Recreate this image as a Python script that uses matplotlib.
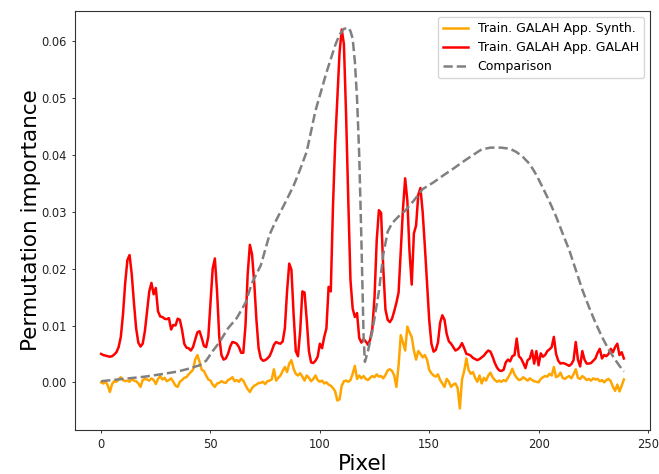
import matplotlib
matplotlib.use("Agg")
import matplotlib.pyplot as plt
import numpy as np

red_vals = [
0.0050,0.0048,0.0047,0.0046,0.0045,0.0046,0.0049,0.0053,0.0062,0.0080,
0.0120,0.0175,0.0215,0.0224,0.0190,0.0140,0.0095,0.0070,0.0063,0.0068,
0.0090,0.0125,0.0160,0.0175,0.0155,0.0166,0.0125,0.0116,0.0115,0.0112,
0.0111,0.0113,0.0093,0.0101,0.0100,0.0112,0.0110,0.0092,0.0068,0.0061,
0.0060,0.0056,0.0062,0.0075,0.0088,0.0090,0.0078,0.0064,0.0062,0.0080,
0.0140,0.0200,0.0218,0.0160,0.0080,0.0048,0.0040,0.0042,0.0050,0.0063,
0.0071,0.0070,0.0068,0.0062,0.0052,0.0052,0.0100,0.0190,0.0242,0.0225,
0.0175,0.0110,0.0060,0.0042,0.0038,0.0039,0.0042,0.0046,0.0055,0.0066,
0.0071,0.0069,0.0068,0.0072,0.0095,0.0160,0.0209,0.0198,0.0120,0.0055,
0.0046,0.0090,0.0160,0.0158,0.0110,0.0055,0.0035,0.0034,0.0038,0.0045,
0.0068,0.0060,0.0080,0.0095,0.0168,0.0160,0.0310,0.0420,0.0500,0.0580,
0.0621,0.0595,0.0470,0.0320,0.0180,0.0130,0.0115,0.0122,0.0078,0.0070,
0.0076,0.0072,0.0066,0.0075,0.0095,0.0150,0.0250,0.0303,0.0298,0.0200,
0.0128,0.0110,0.0106,0.0112,0.0125,0.0140,0.0158,0.0230,0.0305,0.0359,
0.0320,0.0230,0.0172,0.0262,0.0276,0.0330,0.0342,0.0300,0.0240,0.0175,
0.0110,0.0068,0.0054,0.0057,0.0070,0.0105,0.0118,0.0110,0.0085,0.0072,
0.0068,0.0062,0.0056,0.0058,0.0062,0.0069,0.0060,0.0050,0.0049,0.0047,
0.0043,0.0041,0.0039,0.0041,0.0044,0.0047,0.0052,0.0056,0.0054,0.0045,
0.0034,0.0026,0.0021,0.0020,0.0022,0.0035,0.0040,0.0037,0.0046,0.0048,
0.0077,0.0046,0.0042,0.0034,0.0025,0.0039,0.0042,0.0056,0.0033,0.0055,
0.0030,0.0051,0.0045,0.0048,0.0055,0.0058,0.0062,0.0080,0.0050,0.0038,
0.0033,0.0034,0.0033,0.0031,0.0029,0.0032,0.0039,0.0071,0.0040,0.0028,
0.0055,0.0040,0.0033,0.0033,0.0034,0.0038,0.0042,0.0052,0.0059,0.0042,
0.0048,0.0046,0.0050,0.0059,0.0053,0.0062,0.0068,0.0048,0.0053,0.0042,
]

orange_vals = [
0.0000,-0.0002,0.0001,-0.0005,-0.0017,-0.0003,0.0002,0.0001,0.0005,0.0009,
0.0004,0.0002,0.0003,0.0001,0.0006,0.0003,0.0002,-0.0002,-0.0008,0.0004,
0.0006,0.0005,0.0003,0.0007,0.0004,-0.0003,0.0006,0.0011,0.0005,0.0008,
0.0002,0.0004,0.0007,0.0001,-0.0006,-0.0008,0.0001,0.0004,0.0008,0.0009,
0.0014,0.0018,0.0022,0.0040,0.0048,0.0036,0.0022,0.0020,0.0012,0.0005,
0.0003,-0.0004,-0.0008,-0.0002,-0.0001,0.0002,0.0000,-0.0001,0.0004,0.0006,
0.0009,0.0002,0.0004,0.0001,0.0006,0.0003,-0.0005,-0.0012,-0.0017,-0.0010,
-0.0006,-0.0004,-0.0001,-0.0001,0.0001,-0.0003,0.0002,0.0003,0.0005,0.0023,
0.0003,0.0008,0.0012,0.0020,0.0027,0.0018,0.0033,0.0039,0.0024,0.0015,
0.0012,0.0016,0.0010,0.0003,0.0012,0.0008,0.0002,0.0006,0.0012,0.0004,
0.0001,0.0003,-0.0002,0.0000,-0.0004,-0.0006,-0.0010,-0.0016,-0.0032,-0.0030,
-0.0006,0.0002,0.0003,0.0001,0.0004,0.0015,0.0029,0.0006,0.0012,0.0007,
0.0011,0.0006,0.0004,0.0008,0.0011,0.0009,0.0014,0.0010,0.0011,0.0007,
0.0013,0.0021,0.0023,0.0020,0.0012,-0.0008,0.0030,0.0083,0.0070,0.0056,
0.0098,0.0088,0.0080,0.0056,0.0040,0.0055,0.0050,0.0044,0.0048,0.0040,
0.0022,0.0016,0.0012,0.0010,0.0014,0.0004,-0.0002,-0.0008,0.0006,0.0001,
-0.0008,-0.0004,-0.0002,-0.0010,-0.0046,0.0005,0.0020,0.0042,0.0022,0.0015,
0.0018,0.0008,0.0001,0.0012,-0.0002,0.0008,0.0003,0.0012,0.0017,0.0009,
0.0004,0.0001,0.0003,0.0001,0.0004,0.0002,0.0008,0.0015,0.0024,0.0014,
0.0008,0.0004,0.0005,0.0009,0.0006,0.0003,0.0007,0.0004,0.0002,0.0001,
0.0000,0.0006,0.0009,0.0011,0.0010,0.0015,0.0012,0.0027,0.0009,0.0011,
0.0017,0.0008,0.0006,0.0009,0.0011,0.0007,0.0014,0.0023,0.0008,0.0006,
0.0011,0.0008,0.0004,0.0006,0.0003,0.0007,0.0005,0.0006,0.0002,0.0004,
0.0000,0.0004,0.0006,0.0002,-0.0008,-0.0015,-0.0004,-0.0016,-0.0006,0.0005,
]

comp_x = [0, 10, 20, 27, 35, 40, 45, 48, 51, 54, 58, 62, 66, 69, 73, 77, 80, 84,
          88, 91, 94, 98, 103, 107, 109, 111, 113, 114, 115, 116, 117, 118, 119,
          120, 120.6, 122, 124, 127, 129, 131, 133, 136, 139, 143, 147, 152, 156,
          161, 165, 170, 174, 178, 183, 187, 190, 193, 196, 199, 202, 205, 208,
          211, 214, 217, 220, 223, 226, 229, 232, 235, 237, 239]
comp_y = [0.0002, 0.0006, 0.0010, 0.0014, 0.0019, 0.0024, 0.0030, 0.0038, 0.0055,
          0.0070, 0.0095, 0.0113, 0.0140, 0.0175, 0.0206, 0.0260, 0.0285, 0.0315,
          0.0346, 0.0375, 0.0406, 0.0478, 0.0545, 0.0593, 0.0612, 0.0622, 0.0624,
          0.0618, 0.0605, 0.0565, 0.0500, 0.0400, 0.0250, 0.0080, 0.0036, 0.0055,
          0.0090, 0.0160, 0.0225, 0.0265, 0.0280, 0.0292, 0.0302, 0.0320, 0.0340,
          0.0352, 0.0363, 0.0376, 0.0387, 0.0400, 0.0410, 0.0413, 0.0413, 0.0411,
          0.0405, 0.0396, 0.0384, 0.0365, 0.0342, 0.0318, 0.0292, 0.0262, 0.0233,
          0.0198, 0.0163, 0.0133, 0.0105, 0.0080, 0.0058, 0.0040, 0.0029, 0.0019]

labels = ["Train. GALAH App. Synth.", "Train. GALAH App. GALAH", "Comparison"]
xticks = [0, 50, 100, 150, 200, 250]
yticks = [0.0, 0.01, 0.02, 0.03, 0.04, 0.05, 0.06]
ytick_labels = ["0.00", "0.01", "0.02", "0.03", "0.04", "0.05", "0.06"]

pix = np.arange(len(red_vals))

fig = plt.figure(figsize=(6.59, 4.74), dpi=100)
ax = fig.add_axes([75 / 659, 1 - 429.5 / 474, 575 / 659, 418.8 / 474])
ax.plot(pix, orange_vals, color="orange", lw=1.8, label=labels[0])
ax.plot(pix, red_vals, color="red", lw=1.8, label=labels[1])
ax.plot(comp_x, comp_y, color="gray", lw=1.8, ls="--", label=labels[2])
ax.set_xlim(-11.95, 250.95)
ax.set_ylim(-0.0083, 0.0654)
ax.set_xticks(xticks)
ax.set_yticks(yticks)
ax.set_yticklabels(ytick_labels)
ax.tick_params(labelsize=8.3, length=2.5, width=0.7, colors="#333333", labelcolor="#222222")
for s in ax.spines.values():
    s.set_linewidth(0.8)
    s.set_color("#333333")
ax.set_xlabel("Pixel", fontsize=15.5, labelpad=2)
ax.set_ylabel("Permutation importance", fontsize=15.5, labelpad=0)
ax.legend(loc="upper right", fontsize=9)
fig.savefig("out.png", dpi=100)
